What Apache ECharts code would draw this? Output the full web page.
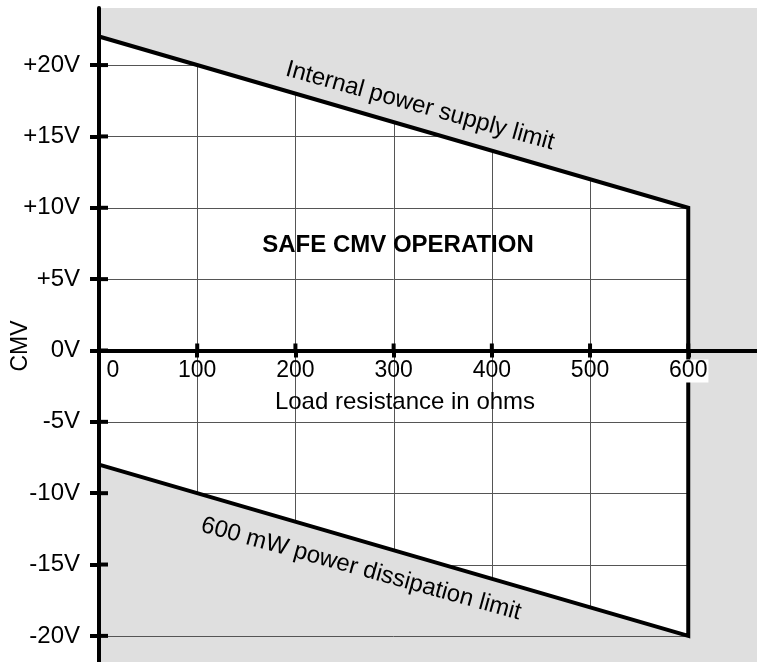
<!DOCTYPE html>
<html>
<head>
<meta charset="utf-8">
<script src="https://cdn.jsdelivr.net/npm/echarts@6/dist/echarts.min.js"></script>
<style>
  html, body { margin: 0; padding: 0; background: #fff; }
  #chart { width: 757px; height: 662px; }
</style>
</head>
<body>
<div id="chart"></div>
<script>
// boundary of the safe region
const loadOhms = [0, 600];
const supplyLimit = [22, 10];        // internal power supply limit (V)
const dissipationLimit = [-8, -20];  // 600 mW power dissipation limit (V)

const xTicks = [0, 100, 200, 300, 400, 500, 600];
const yTicks = [-20, -15, -10, -5, 0, 5, 10, 15, 20];

const FONT = '"Liberation Sans", Arial, sans-serif';
const GRID_COLOR = '#555';
const SHADE = '#dfdfdf';
const X_TICK_LEN = 7;
const Y_TICK_LEN = 9;

const GRID_TOP = 8, GRID_BOTTOM = 0, CHART_H = 662;
const Y_MIN = -21.83, Y_MAX = 24;
// move the x axis up from the grid bottom to the 0V line
const plotH = CHART_H - GRID_TOP - GRID_BOTTOM;
const xAxisOffset = -(plotH * (0 - Y_MIN) / (Y_MAX - Y_MIN));

function valueAt(xs, ys, x) {
  const t = (x - xs[0]) / (xs[1] - xs[0]);
  return ys[0] + t * (ys[1] - ys[0]);
}
function loadAt(xs, ys, y) {
  const t = (y - ys[0]) / (ys[1] - ys[0]);
  return xs[0] + t * (xs[1] - xs[0]);
}

function renderSafeArea(params, api) {
  const xMin = loadOhms[0];
  const xMax = loadOhms[loadOhms.length - 1];
  const top = loadOhms.map((x, i) => api.coord([x, supplyLimit[i]]));
  const bottom = loadOhms.map((x, i) => api.coord([x, dissipationLimit[i]])).reverse();
  const outline = top.concat(bottom);
  const children = [{ type: 'polygon', shape: { points: outline }, style: { fill: '#fff' } }];

  // vertical grid lines, clipped to the safe region
  xTicks.forEach(x => {
    if (x <= xMin || x >= xMax) return;
    const p1 = api.coord([x, valueAt(loadOhms, supplyLimit, x)]);
    const p2 = api.coord([x, valueAt(loadOhms, dissipationLimit, x)]);
    children.push({ type: 'line', shape: { x1: Math.round(p1[0]) + 0.5, y1: p1[1], x2: Math.round(p2[0]) + 0.5, y2: p2[1] },
      style: { stroke: GRID_COLOR, lineWidth: 1 } });
  });

  // horizontal grid lines
  yTicks.forEach(v => {
    if (v === 0) return;
    let x0 = Math.max(xMin, loadAt(loadOhms, dissipationLimit, v));
    let x1 = Math.min(xMax, loadAt(loadOhms, supplyLimit, v));
    if (v === yTicks[0]) { x0 = xMin; x1 = xMax; } // bottom frame line
    if (x1 <= x0) return;
    const p1 = api.coord([x0, v]);
    const p2 = api.coord([x1, v]);
    children.push({ type: 'line', shape: { x1: p1[0], y1: Math.round(p1[1]) + 0.5, x2: p2[0], y2: Math.round(p2[1]) + 0.5 },
      style: { stroke: GRID_COLOR, lineWidth: 1 } });
  });

  children.push({ type: 'polyline', shape: { points: outline },
    style: { stroke: '#000', lineWidth: 4, fill: null, lineJoin: 'miter' } });
  return { type: 'group', children };
}

// inner half of the axis ticks (the axes draw the outer half)
function renderInnerTicks(params, api) {
  const children = [];
  xTicks.forEach(x => {
    if (x === 0) return;
    const p = api.coord([x, 0]);
    children.push({ type: 'line', shape: { x1: p[0], y1: p[1], x2: p[0], y2: p[1] - X_TICK_LEN },
      style: { stroke: '#000', lineWidth: 4 } });
  });
  yTicks.forEach(v => {
    const p = api.coord([0, v]);
    children.push({ type: 'line', shape: { x1: p[0], y1: p[1], x2: p[0] + Y_TICK_LEN, y2: p[1] },
      style: { stroke: '#000', lineWidth: 4 } });
  });
  return { type: 'group', children };
}

const chart = echarts.init(document.getElementById('chart'), null, { renderer: 'canvas' });
chart.setOption({
  animation: false,
  backgroundColor: '#fff',
  grid: {
    left: 99, right: 0, top: GRID_TOP, bottom: GRID_BOTTOM, z: -3,
    containLabel: false, outerBoundsMode: 'none',
    show: true, backgroundColor: SHADE, borderWidth: 0
  },
  xAxis: {
    type: 'value', min: 0, max: 670, position: 'bottom', offset: xAxisOffset, z: 5,
    axisLine: { onZero: false, lineStyle: { color: '#000', width: 4 } },
    axisTick: { customValues: xTicks, length: X_TICK_LEN, lineStyle: { color: '#000', width: 4 } },
    axisLabel: {
      customValues: xTicks, margin: 9, color: '#000', fontFamily: FONT, fontSize: 23,
      formatter: v => v === 0 ? '{zero|0}' : v === 600 ? '{end|600}' : String(v),
      rich: {
        zero: { padding: [0, 0, 0, 28], color: '#000', fontFamily: FONT, fontSize: 23 },
        end: { backgroundColor: '#fff', padding: [0, 1], color: '#000', fontFamily: FONT, fontSize: 23 }
      }
    },
    splitLine: { show: false }
  },
  yAxis: {
    type: 'value', min: Y_MIN, max: Y_MAX, position: 'left', z: 5,
    axisLine: { onZero: false, lineStyle: { color: '#000', width: 4 } },
    axisTick: { customValues: yTicks, length: Y_TICK_LEN, lineStyle: { color: '#000', width: 4 } },
    axisLabel: {
      customValues: yTicks, margin: 19, color: '#000', fontFamily: FONT, fontSize: 24,
      formatter: v => (v > 0 ? '+' : '') + v + 'V'
    },
    splitLine: { show: false }
  },
  series: [{
    type: 'custom', z: -2, silent: true,
    renderItem: renderSafeArea,
    data: [[0, 0]]
  }, {
    type: 'custom', z: 6, silent: true,
    renderItem: renderInnerTicks,
    data: [[0, 0]]
  }],
  graphic: [
    { type: 'text', x: 21, y: 346, rotation: Math.PI / 2, z: 10,
      style: { text: 'CMV', fontFamily: FONT, fontSize: 23, fill: '#000', textAlign: 'center', textVerticalAlign: 'middle' } },
    { type: 'text', x: 405, y: 402, z: 10,
      style: { text: 'Load resistance in ohms', fontFamily: FONT, fontSize: 24, fill: '#000', textAlign: 'center', textVerticalAlign: 'middle' } },
    { type: 'text', x: 398, y: 245, z: 10,
      style: { text: 'SAFE CMV OPERATION', fontFamily: FONT, fontSize: 24, fontWeight: 'bold', fill: '#000', textAlign: 'center', textVerticalAlign: 'middle' } },
    { type: 'text', x: 420, y: 106, rotation: -15.5 * Math.PI / 180, z: 10,
      style: { text: 'Internal power supply limit', fontFamily: FONT, fontSize: 24, fill: '#000', textAlign: 'center', textVerticalAlign: 'middle' } },
    { type: 'text', x: 361, y: 569, rotation: -15.5 * Math.PI / 180, z: 10,
      style: { text: '600 mW power dissipation limit', fontFamily: FONT, fontSize: 24, fill: '#000', textAlign: 'center', textVerticalAlign: 'middle' } }
  ]
});
</script>
</body>
</html>
